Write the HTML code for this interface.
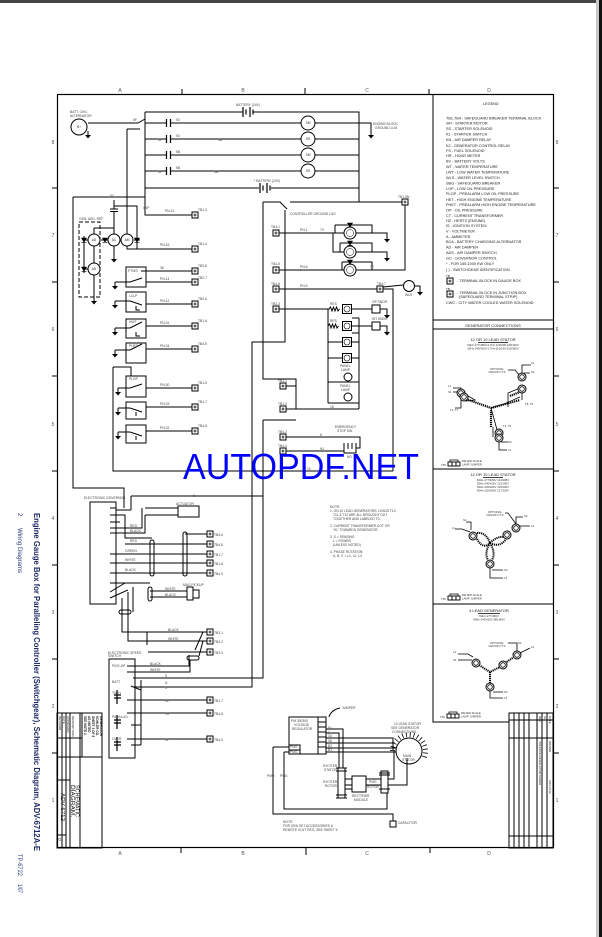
<!DOCTYPE html>
<html><head><meta charset="utf-8"><style>
html,body{margin:0;padding:0;background:#fff;width:602px;height:937px;overflow:hidden}
svg{display:block}
text{font-family:"Liberation Sans",sans-serif}
</style></head><body>
<svg width="602" height="937" viewBox="0 0 602 937" xmlns="http://www.w3.org/2000/svg">
<defs>
<g id="tb"><rect x="-3" y="-3" width="6" height="6" fill="#fff" stroke="#000" stroke-width="1"/><path d="M-1.5 0H1.5M0 -1.5V1.5" stroke="#000" stroke-width="0.8"/></g>
<g id="gnd"><path d="M0 0V4" stroke="#000" stroke-width="1"/><path d="M-3 4H3L0 7.5Z" fill="#000"/></g>
<g id="cap"><path d="M-2 -4V4M2 -4V4" stroke="#000" stroke-width="1.2"/></g>
<g id="dio"><path d="M-2.5 -2H2.5L0 2Z M-2.5 2.3H2.5" fill="#000" stroke="#000" stroke-width="0.6"/></g>
<g id="gauge"><circle r="6" fill="#fff" stroke="#000" stroke-width="1"/><circle r="3.5" fill="none" stroke="#000" stroke-width="0.5"/></g>
<g id="sq"><rect x="-4.5" y="-4.5" width="9" height="9" fill="#fff" stroke="#000" stroke-width="1"/><circle r="3" fill="none" stroke="#000" stroke-width="0.6"/></g>
<g id="ct"><circle r="4" fill="#fff" stroke="#000" stroke-width="1"/><circle r="2.3" fill="none" stroke="#000" stroke-width="0.8"/></g>
<g id="jmp"><rect x="0" y="0" width="4" height="4" fill="#fff" stroke="#000" stroke-width="0.9"/><rect x="4" y="0" width="4" height="4" fill="#fff" stroke="#000" stroke-width="0.9"/><rect x="8" y="0" width="4" height="4" fill="#fff" stroke="#000" stroke-width="0.9"/><path d="M2 0V-2H10V0" fill="none" stroke="#000" stroke-width="0.8"/></g>
</defs>
<rect width="602" height="937" fill="#fff"/>
<rect x="0" y="0" width="602" height="3" fill="#444"/>
<rect x="596" y="0" width="3" height="937" fill="#c8c8c8"/>
<rect x="599" y="0" width="3" height="937" fill="#111"/>

<!-- side rotated texts -->
<text transform="translate(34,513) rotate(90)" font-size="8.5" font-weight="bold" fill="#1f2a66" textLength="338" lengthAdjust="spacingAndGlyphs">Engine Gauge Box for Paralleling Controller (Switchgear), Schematic Diagram, ADV-6712A-E</text>
<text transform="translate(18,513) rotate(90)" font-size="6" fill="#2a3a80">2</text>
<text transform="translate(18,528) rotate(90)" font-size="6" fill="#2a3a80" textLength="45" lengthAdjust="spacingAndGlyphs">Wiring Diagrams</text>
<text transform="translate(18,854) rotate(90)" font-size="6" fill="#2a3a80" textLength="22" lengthAdjust="spacingAndGlyphs">TP-6722</text>
<text transform="translate(18,884) rotate(90)" font-size="6" fill="#2a3a80" textLength="9" lengthAdjust="spacingAndGlyphs">1/07</text>

<!-- frame -->
<rect x="57.5" y="94.5" width="496" height="753" fill="none" stroke="#000" stroke-width="1.2"/>
<g stroke="#000" stroke-width="1" fill="none">
<path d="M182 89V94M305 88V94M429 89V94M181 848V853M306 848V855M430 848V853"/>
<path d="M52 188H57M52 282H57M52 376H57M52 471H57M52 565H57M52 659H57M52 753H57"/>
<path d="M553 188H559M553 282H559M553 376H559M553 471H559M553 565H559M553 659H559M553 753H559"/>
</g>
<g font-size="5" fill="#555" text-anchor="middle">
<text x="120" y="92">A</text><text x="243" y="92">B</text><text x="367" y="92">C</text><text x="489" y="92">D</text>
<text x="120" y="855">A</text><text x="243" y="855">B</text><text x="367" y="855">C</text><text x="489" y="855">D</text>
<text x="53" y="144">8</text><text x="53" y="237">7</text><text x="53" y="331">6</text><text x="53" y="426">5</text><text x="53" y="520">4</text><text x="53" y="614">3</text><text x="53" y="708">2</text><text x="53" y="802">1</text>
<text x="557" y="144">8</text><text x="557" y="237">7</text><text x="557" y="331">6</text><text x="557" y="426">5</text><text x="557" y="520">4</text><text x="557" y="614">3</text><text x="557" y="708">2</text><text x="557" y="802">1</text>
</g>

<!-- ===== main wiring ===== -->
<g stroke="#000" stroke-width="1" fill="none">
<!-- top bus -->
<path d="M145 112V215H192M145 112H243M253 112H359V202"/>
<path d="M243 107V117M246 109.5V114.5M250 107V117M253 109.5V114.5" stroke-width="1.2"/>
<path d="M88 123H138L145 119M145 123H166M171 123H301M315 123H371V131"/>
<path d="M145 139H166M171 139H301M315 139H359"/>
<path d="M145 155H166M171 155H301M315 155H359"/>
<path d="M145 171H166M171 171H301M315 171H359"/>
<path d="M145 188H259M271 188H359"/>
<path d="M260 183V193M263 185.5V190.5M267 183V193M270 185.5V190.5" stroke-width="1.2"/>
<path d="M127 129H140M127 129V249H192"/>
<path d="M73 197H145M73 197V488H124V508"/>
<!-- alt/ad section -->
<path d="M114 206H137V249M110 209H118M110 211.5H118M114 200V209M114 211.5V234M114 246V255"/>
<path d="M94 228H114M94 228V234M94 246V263M94 275V297"/>
<rect x="79" y="222" width="21" height="75" stroke-dasharray="4 2"/>
<path d="M84 236V273M84 240H88M84 269H88M101 240H108M134 240H140"/>
<!-- switch boxes -->
<rect x="126" y="267" width="20" height="20"/>
<rect x="126" y="292" width="20" height="20"/>
<rect x="126" y="319" width="20" height="19"/>
<rect x="126" y="343" width="20" height="20"/>
<rect x="126" y="376" width="20" height="21"/>
<rect x="126" y="402" width="20" height="17"/>
<rect x="126" y="425" width="20" height="18"/>
<path d="M146 271H192M146 282H192M146 304H192M146 326H192M146 349H192M146 388H192M146 407H192M146 431H192"/>
<path d="M115 282H130M115 301H130M115 328H130M115 350H130M118 388H130M118 408H130M118 432H130"/>
<path d="M113 367H131V376M113 367V471H393"/>
<path d="M130 282L142 278M141 271H146M130 301L142 305M130 328L142 322M130 350L142 344M130 388L142 384M130 408L142 412M130 432L142 436M136 306V310H140M136 332V336H140M136 412V416M136 436V440"/>
<!-- middle column -->
<path d="M263 202H280L287 209M290 202H402M405 205V270H356"/>
<path d="M263 202V379H296V409M286 386H296"/>
<path d="M285 210V342H252V687H133"/>
<path d="M263 420V678H133M263 420H296"/>
<path d="M279 233H344M356 233H387V235M335 225H372V233M335 225V233"/>
<path d="M333 233V252H344M356 252H387V254M340 243H372V252M340 243V252"/>
<path d="M279 270H344M342 262H372V270M342 262V270"/>
<path d="M279 289H377M383 289H393V471M383 287L403 285M414 286H420V288"/>
<path d="M279 309H329M329 309l1.5 -2l1.5 4l1.5 -4l1.5 4l1.5 -4l1.5 4l1.5 -2M352 309H372M380 309H387V311"/>
<path d="M328 326l1.5 -2l1.5 4l1.5 -4l1.5 4l1.5 -4l1.5 4l1.5 -2M352 326H372M380 326H387V328"/>
<path d="M328 309V403M359 318V409M352 318H359M352 333H359M328 342H343M352 342H359M328 358H343M352 358H359M328 382H359M328 403H359"/>
<path d="M286 409H359M286 437H360V448H356M286 451H344"/>
<path d="M344 443V453H356V443M348 443V449M352 443V449"/>
<!-- lower left governor -->
<rect x="90" y="502" width="26" height="102"/>
<path d="M131 496H263M131 496V510M116 510H131"/>
<path d="M110 515H125V538H152"/>
<path d="M145 508H178M145 515H178"/>
<rect x="178" y="506" width="21" height="11"/>
<path d="M110 528H142V508M110 533H145V515"/>
<path d="M125 544H207M110 554H207M110 563H207M110 573H207M185 534H207M110 522H120M110 508H116"/>
<rect x="150" y="540" width="4" height="36" rx="2"/>
<rect x="183" y="532" width="4" height="44" rx="2"/>
<path d="M110 583H150M110 592L125 583M110 598L128 590M150 591H187M150 597H187M133 587V612M122 598V632H207M128 592V641H207M148 652H207M147 632V645"/>
<rect x="148" y="587" width="4" height="14" rx="2"/>
<rect x="187" y="587" width="6" height="13"/>
<rect x="193" y="590" width="6" height="8"/>
<rect x="119" y="610" width="12" height="4" rx="2"/>
<rect x="187" y="656" width="12" height="4" rx="2"/>
<path d="M203 632L195 650M203 641L199 656M189 655V666H127M127 672H190V660M127 700H207M127 713H207M127 739H207"/>
<rect x="109" y="659" width="26" height="99"/>
<path d="M141 680V745M131 686L141 690M131 700H141M131 725H141M131 745H141"/>
<path d="M114 695H121M114 698H121M117 690V704M114 720H121M114 723H121M117 715V729M114 742H121M114 745H121M117 737V751" stroke-width="1.2"/>
<!-- bottom regulator area -->
<rect x="289" y="717" width="29" height="37"/>
<rect x="318" y="717" width="8" height="37"/>
<path d="M318 722H326M318 727H326M318 732H326M318 737H326M318 742H326M318 747H326M289 745H300V754M289 750H300"/>
<path d="M326 729H343V768M326 733H339V768M326 738H393V750M326 743H395M326 748H398M326 752H398"/>
<path d="M329 717Q331 710 340 708"/>
<circle cx="409" cy="751" r="13" fill="#fff"/>
<path d="M392.5 751A16.5 16.5 0 1 1 423.3 759.3" stroke-width="5" stroke-dasharray="0.8 3"/>
<rect x="338" y="768" width="7" height="30" fill="#fff"/>
<path d="M336 768H347M336 798H347M336 771H347M336 795H347"/>
<rect x="352" y="776" width="14" height="16"/>
<path d="M345 779H352M345 785H352M345 789H352M366 779H394V750M366 785H381M388 785H407V758"/>
<rect x="381" y="771" width="7" height="22" fill="#fff"/>
<path d="M379 775H390M379 789H390M379 773H390"/>
<path d="M273 747V814H393V821M273 747H289M284 752V809H387V793M284 752H289"/>
<rect x="390" y="821" width="6" height="6"/>
<!-- left title block -->
<rect x="57" y="713" width="45" height="135"/>
<path d="M62 713V848M66 713V848M70 713V848M80 713V848M82 713V757M57 738H82M57 757H102M57 780H70M57 835H66"/>
<!-- legend / right panels -->
<path d="M433 94V722H509M433 320H553M433 329H553M433 469H553M433 604H553"/>
<rect x="509" y="713" width="44" height="135"/>
<path d="M514 713V848M519 713V848M524 713V848M529 713V848M537 713V848M542 713V848M547 713V848M509 720H553M509 738H553M509 836H553"/>
</g>

<!-- symbols -->
<g fill="#fff" stroke="#000" stroke-width="1">
<circle cx="79" cy="127" r="8"/>
<circle cx="94" cy="240" r="6"/><circle cx="94" cy="269" r="6"/>
<circle cx="114" cy="240" r="6"/><circle cx="127" cy="240" r="6"/>
<circle cx="308" cy="123" r="7"/><circle cx="308" cy="139" r="7"/><circle cx="308" cy="155" r="7"/><circle cx="308" cy="171" r="7"/>
<circle cx="409" cy="286" r="5.5"/>
<circle cx="348" cy="377" r="4"/><circle cx="348" cy="397" r="4"/>
<rect x="372" y="305" width="8" height="8"/><rect x="372" y="322" width="8" height="8"/>
</g>
<g font-size="3.2" fill="#333" text-anchor="middle">
<text x="79" y="128">B+</text><text x="308" y="124">SM</text><text x="308" y="140">SS</text><text x="308" y="156">SM</text><text x="308" y="172">SS</text>
<text x="94" y="241">AD</text><text x="94" y="270">AD</text><text x="114" y="241">AC</text><text x="127" y="241">AM</text>
</g>
<use href="#gauge" x="350" y="233"/><use href="#gauge" x="350" y="252"/><use href="#gauge" x="350" y="270"/>
<use href="#sq" x="347" y="309"/><use href="#sq" x="347" y="326"/><use href="#sq" x="347" y="342"/><use href="#sq" x="347" y="358"/>
<use href="#dio" x="350" y="225"/><use href="#dio" x="350" y="243"/><use href="#dio" x="350" y="262"/>
<use href="#dio" x="84" y="240"/><use href="#dio" x="84" y="269"/><use href="#dio" x="105" y="240"/><use href="#dio" x="137" y="240"/>
<use href="#cap" x="168.5" y="123"/><use href="#cap" x="168.5" y="139"/><use href="#cap" x="168.5" y="155"/><use href="#cap" x="168.5" y="171"/>
<use href="#gnd" x="371" y="131"/><use href="#gnd" x="387" y="235"/><use href="#gnd" x="387" y="254"/><use href="#gnd" x="420" y="288"/>
<use href="#gnd" x="387" y="311"/><use href="#gnd" x="387" y="328"/><use href="#gnd" x="114" y="255"/><use href="#gnd" x="94" y="297"/>
<use href="#gnd" x="88" y="131"/>
<use href="#gnd" x="115" y="282"/><use href="#gnd" x="115" y="301"/><use href="#gnd" x="115" y="328"/><use href="#gnd" x="115" y="350"/>
<use href="#gnd" x="118" y="388"/><use href="#gnd" x="118" y="408"/><use href="#gnd" x="118" y="432"/>
<use href="#tb" x="195" y="215"/><use href="#tb" x="195" y="249"/><use href="#tb" x="195" y="271"/><use href="#tb" x="195" y="282"/>
<use href="#tb" x="195" y="304"/><use href="#tb" x="195" y="326"/><use href="#tb" x="195" y="349"/><use href="#tb" x="195" y="388"/>
<use href="#tb" x="195" y="407"/><use href="#tb" x="195" y="431"/>
<use href="#tb" x="405" y="202"/><use href="#tb" x="276" y="233"/><use href="#tb" x="276" y="270"/><use href="#tb" x="276" y="289"/>
<use href="#tb" x="276" y="309"/><use href="#tb" x="283" y="386"/><use href="#tb" x="283" y="409"/><use href="#tb" x="283" y="437"/>
<use href="#tb" x="283" y="451"/><use href="#tb" x="380" y="289"/>
<use href="#tb" x="210" y="534"/><use href="#tb" x="210" y="544"/><use href="#tb" x="210" y="554"/><use href="#tb" x="210" y="563"/><use href="#tb" x="210" y="573"/>
<use href="#tb" x="210" y="632"/><use href="#tb" x="210" y="641"/><use href="#tb" x="210" y="652"/>
<use href="#tb" x="210" y="700"/><use href="#tb" x="210" y="713"/><use href="#tb" x="210" y="739"/>

<!-- small wire labels -->
<g font-size="3.3" fill="#444">
<text x="70" y="113">BATT. CHG.</text><text x="70" y="117">ALTERNATOR</text>
<text x="236" y="106">BATTERY (24V)</text><text x="254" y="182">* BATTERY (24V)</text>
<text x="133" y="121">5F</text><text x="176" y="121">53</text><text x="176" y="137">53</text><text x="176" y="153">5B</text><text x="176" y="169">5B</text>
<text x="158" y="141">5P</text><text x="158" y="173">5P</text><text x="218" y="141">5B</text><text x="214" y="173">5B</text>
<text x="373" y="125">ENGINE BLOCK</text><text x="375" y="129">GROUND LUG</text>
<text x="290" y="215">CONTROLLER GROUND LUG</text>
<text x="79" y="220">GEN. ADD. REF</text>
<text x="110" y="197">5C</text><text x="143" y="209">1NP</text><text x="165" y="212">PN-13</text><text x="198" y="211">TB1-3</text>
<text x="160" y="246">PN-15</text><text x="198" y="245">TB1-4</text>
<text x="198" y="267">TB2-8</text><text x="198" y="279">TB2-7</text><text x="198" y="300">TB4-6</text><text x="198" y="322">TB1-6</text>
<text x="198" y="345">TB4-5</text><text x="198" y="384">TB1-5</text><text x="198" y="403">TB1-7</text><text x="198" y="427">TB4-8</text>
<text x="128" y="272">PTWS</text><text x="129" y="297">LCLP</text><text x="129" y="323">HWT</text><text x="129" y="347">PHET</text><text x="129" y="380">PLOP</text>
<text x="160" y="269">36</text><text x="160" y="280">PN-14</text><text x="160" y="302">PN-12</text><text x="160" y="324">PN-31</text><text x="160" y="347">PN-34</text><text x="160" y="386">PN-30</text><text x="160" y="405">PN-33</text><text x="160" y="429">PN-32</text>
<text x="271" y="228">TB4-1</text><text x="271" y="265">TB4-5</text><text x="271" y="285">TB4-6</text><text x="271" y="305">TB4-3</text>
<text x="278" y="382">TB1-1</text><text x="278" y="405">TB1-3</text><text x="278" y="433">TB4-2</text><text x="278" y="447">TB4-4</text>
<text x="300" y="231">PN-1</text><text x="300" y="268">PN-6</text><text x="300" y="287">PN-5</text><text x="320" y="231">70</text><text x="370" y="268">70</text>
<text x="398" y="198">TB1-5N</text><text x="377" y="285">TB4-7</text><text x="405" y="296">WLS</text>
<text x="330" y="305">RES</text><text x="330" y="322">RES</text><text x="372" y="303">OP SNDR</text><text x="372" y="320">WT SNDR</text>
<text x="340" y="367">PANEL</text><text x="341" y="371">LAMP</text><text x="340" y="387">PANEL</text><text x="341" y="391">LAMP</text>
<text x="335" y="428">EMERGENCY</text><text x="337" y="432">STOP SW.</text><text x="347" y="458">NO</text>
<text x="307" y="470">10</text><text x="330" y="408">18</text><text x="320" y="436">8</text><text x="320" y="450">N1</text>
<text x="84" y="499">ELECTRONIC GOVERNOR</text><text x="193" y="497">N</text><text x="176" y="505">ACTUATOR</text>
<text x="130" y="527">RED</text><text x="130" y="532">BLACK</text><text x="130" y="542">RED</text><text x="125" y="552">GREEN</text><text x="125" y="561">WHITE</text><text x="125" y="571">BLACK</text>
<text x="214" y="536">TB4-6</text><text x="214" y="546">TB4-8</text><text x="214" y="556">TB1-7</text><text x="214" y="565">TB1-8</text><text x="214" y="575">TB4-9</text>
<text x="183" y="586">MAG PICKUP</text><text x="165" y="590">WHITE</text><text x="165" y="596">BLACK</text>
<text x="168" y="631">BLACK</text><text x="168" y="640">WHITE</text><text x="214" y="634">TB3-1</text><text x="214" y="643">TB3-2</text><text x="214" y="654">TB3-3</text>
<text x="108" y="654">ELECTRONIC SPEED</text><text x="108" y="657">SWITCH</text><text x="150" y="665">BLACK</text><text x="150" y="671">WHITE</text>
<text x="214" y="702">TB1-7</text><text x="214" y="715">TB4-8</text><text x="214" y="741">TB4-9</text>
<text x="112" y="667">PICK-UP</text><text x="112" y="683">BATT</text><text x="112" y="694">TACH</text><text x="112" y="718">PARALLEL</text><text x="112" y="740">OVER</text>
<text x="165" y="677">5</text><text x="165" y="684">N</text><text x="165" y="689">5</text><text x="165" y="702">12</text><text x="165" y="715">13</text><text x="165" y="741">11</text>
<text x="291" y="722">PM 300300</text><text x="294" y="726">VOLTAGE</text><text x="292" y="730">REGULATOR</text>
<text x="290" y="748">PMG</text><text x="290" y="753">PMG</text><text x="267" y="777">PMG</text><text x="280" y="777">PMG</text>
<text x="328" y="729">F+</text><text x="328" y="734">F-</text><text x="328" y="737">33</text><text x="328" y="742">38</text><text x="328" y="747">B2</text><text x="328" y="751">B1</text>
<text x="342" y="709">JUMPER</text>
<text x="394" y="725">12 LEAD STATOR</text><text x="391" y="729">SEE GENERATOR</text><text x="392" y="733">CONNECTIONS</text>
<text x="403" y="757">MAIN</text><text x="402" y="761">STATOR</text>
<text x="323" y="767">EXCITER</text><text x="324" y="771">STATOR</text><text x="323" y="783">EXCITER</text><text x="325" y="787">ROTOR</text>
<text x="352" y="797">RECTIFIER</text><text x="354" y="801">MODULE</text><text x="369" y="783">PMG</text><text x="367" y="788">ROTOR</text>
<text x="398" y="824">CAPACITOR</text>
<text x="283" y="823">NOTE:</text><text x="283" y="827">FOR GEN SET ACCESSORIES &amp;</text><text x="283" y="831">REMOTE VOLT REG, SEE SHEET 6</text>
<text x="330" y="508">NOTE:</text>
<text x="330" y="512">1. ON 10 LEAD GENERATORS, LEADS T10,</text>
<text x="333" y="516">T11 &amp; T12 ARE ALL BROUGHT OUT</text>
<text x="333" y="520">TOGETHER AND LABELED T0.</text>
<text x="330" y="527">2. CURRENT TRANSFORMER DOT OR</text>
<text x="333" y="531">'H1' TOWARDS GENERATOR.</text>
<text x="330" y="538">3. S = SENSING</text>
<text x="333" y="542">L = POWER</text>
<text x="333" y="546">(UNLESS NOTED)</text>
<text x="330" y="553">4. PHASE ROTATION:</text>
<text x="333" y="557">A, B, C = L1, L2, L3</text>
</g>

<!-- legend -->
<g font-size="3.8" fill="#1a1a1a">
<text x="483" y="105">LEGEND</text>
<text x="446" y="119.5">TB1,TB4  - SAFEGUARD BREAKER TERMINAL BLOCK</text>
<text x="446" y="124.5">SM    - STARTER MOTOR</text>
<text x="446" y="130">SS    - STARTER SOLENOID</text>
<text x="446" y="135.5">K1    - STARTER SWITCH</text>
<text x="446" y="141">KN    - AIR DAMPER RELAY</text>
<text x="446" y="147">K2    - GENERATOR CONTROL RELAY</text>
<text x="446" y="152">FS    - FUEL SOLENOID</text>
<text x="446" y="157">HR    - HOUR METER</text>
<text x="446" y="162.5">BV    - BATTERY VOLTS</text>
<text x="446" y="168">WT    - WATER TEMPERATURE</text>
<text x="446" y="173.5">LWT   - LOW WATER TEMPERATURE</text>
<text x="446" y="179">WLS   - WATER LEVEL SWITCH</text>
<text x="446" y="184.5">SBG   - SAFEGUARD BREAKER</text>
<text x="446" y="190">LOP   - LOW OIL PRESSURE</text>
<text x="446" y="195">PLOP - PREALARM LOW OIL PRESSURE</text>
<text x="446" y="201">HET   - HIGH ENGINE TEMPERATURE</text>
<text x="446" y="206">PHET - PREALARM HIGH ENGINE TEMPERATURE</text>
<text x="446" y="211.5">OP    - OIL PRESSURE</text>
<text x="446" y="217">CT    - CURRENT TRANSFORMER</text>
<text x="446" y="222">HZ    - HERTZ (ENGINE)</text>
<text x="446" y="227">IS    - IGNITION SYSTEM</text>
<text x="446" y="232.5">V     - VOLTMETER</text>
<text x="446" y="238">A     - AMMETER</text>
<text x="446" y="243">BCA  - BATTERY CHARGING ALTERNATOR</text>
<text x="446" y="248.5">AD    - AIR DAMPER</text>
<text x="446" y="254">ADS  - AIR DAMPER SWITCH</text>
<text x="446" y="259.5">GC    - GOVERNOR CONTROL</text>
<text x="446" y="265">*      - FOR 150-1000 KW ONLY</text>
<text x="446" y="271">( )   - SWITCHGEAR IDENTIFICATION</text>
<text x="457" y="282">- TERMINAL BLOCK IN GAUGE BOX</text>
<text x="457" y="294">- TERMINAL BLOCK IN JUNCTION BOX</text>
<text x="459" y="298">(SAFEGUARD TERMINAL STRIP)</text>
<text x="446" y="304">CWC - CITY WATER COOLED WATER SOLENOID</text>
<text x="446" y="277" font-size="3">TB</text><text x="446" y="290" font-size="3">TB</text>
</g>
<use href="#tb" x="450" y="281"/><use href="#tb" x="450" y="294"/>

<!-- generator connections -->
<g font-size="4" fill="#1a1a1a" text-anchor="middle">
<text x="493" y="327">GENERATOR CONNECTIONS</text>
<text x="493" y="341">12 OR 10 LEAD STATOR</text>
<text x="493" y="476">12 OR 10 LEAD STATOR</text>
<text x="489" y="612">4 LEAD GENERATOR</text>
</g>
<g font-size="2.8" fill="#333" text-anchor="middle">
<text x="493" y="346">60Hz-277/480V-2.7Hz-120/208-240/416V</text>
<text x="493" y="349.5">50Hz-240/416V-2.7Hz-110/190-220/380V</text>
<text x="493" y="481">60Hz-277/480V 120/208V</text><text x="493" y="484.5">50Hz-240/416V 110/190V</text>
<text x="493" y="488">60Hz-230/400V 115/200V</text><text x="493" y="491.5">50Hz-220/380V 127/220V</text>
<text x="489" y="617">60Hz-277/480V</text><text x="489" y="620.5">50Hz-240/416V 380 MAX</text>
<text x="497" y="370">OPTIONAL</text><text x="497" y="373">GROUP CT'S</text>
<text x="495" y="513">OPTIONAL</text><text x="495" y="516">GROUP CT'S</text>
<text x="497" y="644">OPTIONAL</text><text x="497" y="647">GROUP CT'S</text>
</g>
<g stroke="#000" fill="none" stroke-width="0.8">
<path d="M478 342.5H508M483 477.5H503M478 613.5H500"/>
<!-- panel1 -->
<path d="M453 388H461V393M453 392H458L462 395M461 397V408H455M508 370H515L520 376"/>
<path d="M522 377V365H531M524 373H530M522 389V400"/>
<path d="M491 408L499 437M499 441V450H507M501 442H508M491 408L504 404L520 397"/>
<path d="M466 399L491 408" stroke-width="2.2" stroke-dasharray="1.2 0.8"/>
<path d="M491 408L520 400M491 410V427M510 396L520 392" stroke-width="2.2" stroke-dasharray="1.2 0.8"/>
<path d="M508 407V393L520 388M493 427V437" stroke-width="0.8"/>
<path d="M468 396L475 400L466 401Z"/>
<!-- panel2 -->
<path d="M470 532L462 529H455M471 530V522H466M519 526H530M516 524V517H523M505 513H508L516 524M490 568V578H503M492 570H503"/>
<path d="M477 539Q483 550 490 543M477 533Q486 532 490 543M490 543Q497 536 504 537M490 543Q500 548 506 539M490 543Q484 553 488 560M490 543Q496 553 492 560" stroke-width="2" stroke-dasharray="1.2 0.8"/>
<!-- panel3 -->
<path d="M472 660H458M473 657L468 654H458M520 653L530 648M517 651V645M508 643H517V651M490 691V698H503M493 692H503"/>
<path d="M479 665L490 672L500 667M505 663L514 657M490 672V683" stroke-width="2" stroke-dasharray="1.2 0.8"/>
</g>
<use href="#ct" x="461" y="393"/><use href="#ct" x="464" y="397"/><use href="#ct" x="522" y="377"/><use href="#ct" x="522" y="389"/><use href="#ct" x="499" y="433"/><use href="#ct" x="499" y="438"/>
<use href="#ct" x="473" y="536"/><use href="#ct" x="507" y="535"/><use href="#ct" x="516" y="528"/><use href="#ct" x="490" y="564"/>
<use href="#ct" x="476" y="663"/><use href="#ct" x="503" y="665"/><use href="#ct" x="517" y="655"/><use href="#ct" x="490" y="687"/>
<use href="#jmp" x="448" y="462"/><use href="#jmp" x="448" y="596"/><use href="#jmp" x="447" y="714"/>
<g font-size="2.8" fill="#333">
<text x="441" y="466">T65</text><text x="462" y="462">METER SCALE</text><text x="462" y="465.5">LAMP JUMPER</text>
<text x="441" y="600">T65</text><text x="462" y="596">METER SCALE</text><text x="462" y="599.5">LAMP JUMPER</text>
<text x="440" y="718">T65</text><text x="461" y="714">METER SCALE</text><text x="461" y="717.5">LAMP JUMPER</text>
<text x="448" y="387">L1</text><text x="448" y="393">S1</text><text x="531" y="364">L2</text><text x="531" y="373">S2</text><text x="508" y="443">S3</text><text x="508" y="451">L3</text>
<text x="450" y="411">T4, T7</text><text x="525" y="405">T8, T9</text><text x="503" y="427">T3, T6</text>
<text x="452" y="529">L1</text><text x="463" y="521">S1</text><text x="531" y="527">L2</text><text x="524" y="517">S2</text><text x="504" y="571">S3</text><text x="504" y="579">L3</text>
<text x="453" y="653">L1</text><text x="453" y="661">S1</text><text x="531" y="648">L2</text><text x="518" y="644">S2</text><text x="504" y="693">S3</text><text x="504" y="699">L3</text>
</g>

<!-- title block texts -->
<g fill="#111" font-size="4">
<text transform="translate(71,785) rotate(90)" font-size="5.5" textLength="32" lengthAdjust="spacingAndGlyphs">DIAGRAM,</text>
<text transform="translate(75.5,785) rotate(90)" font-size="5.5" textLength="32" lengthAdjust="spacingAndGlyphs">SCHEMATIC</text>
<text transform="translate(61,793) rotate(90)" font-size="5" textLength="28" lengthAdjust="spacingAndGlyphs">ADV-6712</text>
<text transform="translate(58.5,838) rotate(90)" font-size="4">D</text>
<text transform="translate(59,716) rotate(90)" font-size="3">REVISION</text>
<text transform="translate(63,716) rotate(90)" font-size="3">DATE</text>
<text transform="translate(67,716) rotate(90)" font-size="3">APPROVED</text>
<text transform="translate(72,716) rotate(90)" font-size="3">DESCRIPTION</text>
<text transform="translate(84,716) rotate(90)" font-size="3.2" font-weight="bold">SEE NOTE 2</text>
<text transform="translate(88,716) rotate(90)" font-size="3.2" font-weight="bold">AS NOTED</text>
<text transform="translate(92,716) rotate(90)" font-size="3.2" font-weight="bold">SHEET 3 OF 6</text>
<text transform="translate(96,716) rotate(90)" font-size="3.2" font-weight="bold">KOHLER CO.</text>
<text transform="translate(100,716) rotate(90)" font-size="3.2" font-weight="bold">GENERATOR</text>
<text transform="translate(539,716) rotate(90)" font-size="3">REV</text>
<text transform="translate(544,716) rotate(90)" font-size="3">SH</text>
<text transform="translate(549,716) rotate(90)" font-size="3">DATE</text>
<text transform="translate(539,741) rotate(90)" font-size="3">VOLTAGE REGULATOR ADDED</text>
<text transform="translate(549,741) rotate(90)" font-size="3">DRAWN</text>
<text transform="translate(549,780) rotate(90)" font-size="3">ADV-6712</text>
</g>

<text x="183" y="479" font-size="36" fill="#0000ff" textLength="236" lengthAdjust="spacingAndGlyphs">AUTOPDF.NET</text>
</svg>
</body></html>
